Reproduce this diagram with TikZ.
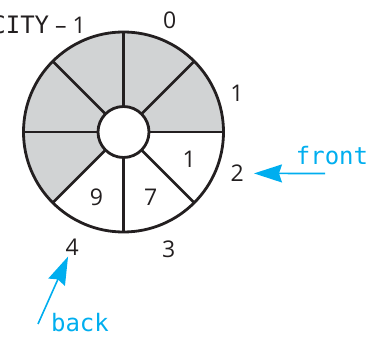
\documentclass[tikz,border=0pt]{standalone}
\usepackage{fontspec}
\setmainfont{Open Sans}
\setmonofont{DejaVu Sans Mono}
\usetikzlibrary{arrows.meta,calc}

\definecolor{slotgray}{HTML}{D1D3D4}
\definecolor{ptrcyan}{HTML}{00AEEF}
\definecolor{ink}{HTML}{231F20}

\begin{document}
\begin{tikzpicture}[x=1pt,y=1pt,every node/.style={font=\fontsize{23}{26}\selectfont,text=ink,inner sep=1pt},
  ptr/.style={draw=ptrcyan,line width=1.6pt,-{Stealth[length=28pt,width=18pt,inset=3pt]}},
  ptrlabel/.style={font=\ttfamily\fontsize{24}{26}\selectfont,text=ptrcyan}]
  \useasboundingbox (0,0) rectangle (381,338);
  \coordinate (c) at (123.5,206);
  % ring of slots
  \foreach \a/\f in {0/slotgray,45/slotgray,90/slotgray,135/slotgray,180/slotgray,225/white,270/white,315/white}
    \fill[\f] (c) -- ++(\a:100) arc (\a:\a+45:100) -- cycle;
  \foreach \a in {0,45,...,315}
    \draw[line width=2.6pt,ink] ($(c)+(\a:25)$) -- ($(c)+(\a:100)$);
  \draw[line width=2.8pt,ink] (c) circle (100);
  \draw[line width=2.8pt,ink,fill=white] (c) circle (25.5);
  % indices
  \foreach \i/\a/\r in {0/67.5/121,1/19/120,2/-20/121,3/-69/126,4/-114/126} {
    \node (idx\i) at ($(c)+(\a:\r)$) {\i};
  }
  \node[anchor=east] (cap) at (87,313) {{\ttfamily\fontsize{24}{26}\selectfont CAPACITY} – 1};
  % stored values
  \foreach \k/\a/\v in {2/-22.5/1,3/-67.5/7,4/-112.5/9} {
    \node (val\k) at ($(c)+(\a:71)$) {\v};
  }
  % front and back
  \node[ptrlabel,anchor=base] (front) at (332,173) {front};
  \node[ptrlabel,anchor=base] (back) at (80,6) {back};
  \coordinate (ftail) at (325,164.5);
  \coordinate (btail) at (38,14);
  \draw[ptr,shorten >=9pt] (ftail) -- (idx2);
  \draw[ptr] (btail) -- (idx4);
\end{tikzpicture}
\end{document}
